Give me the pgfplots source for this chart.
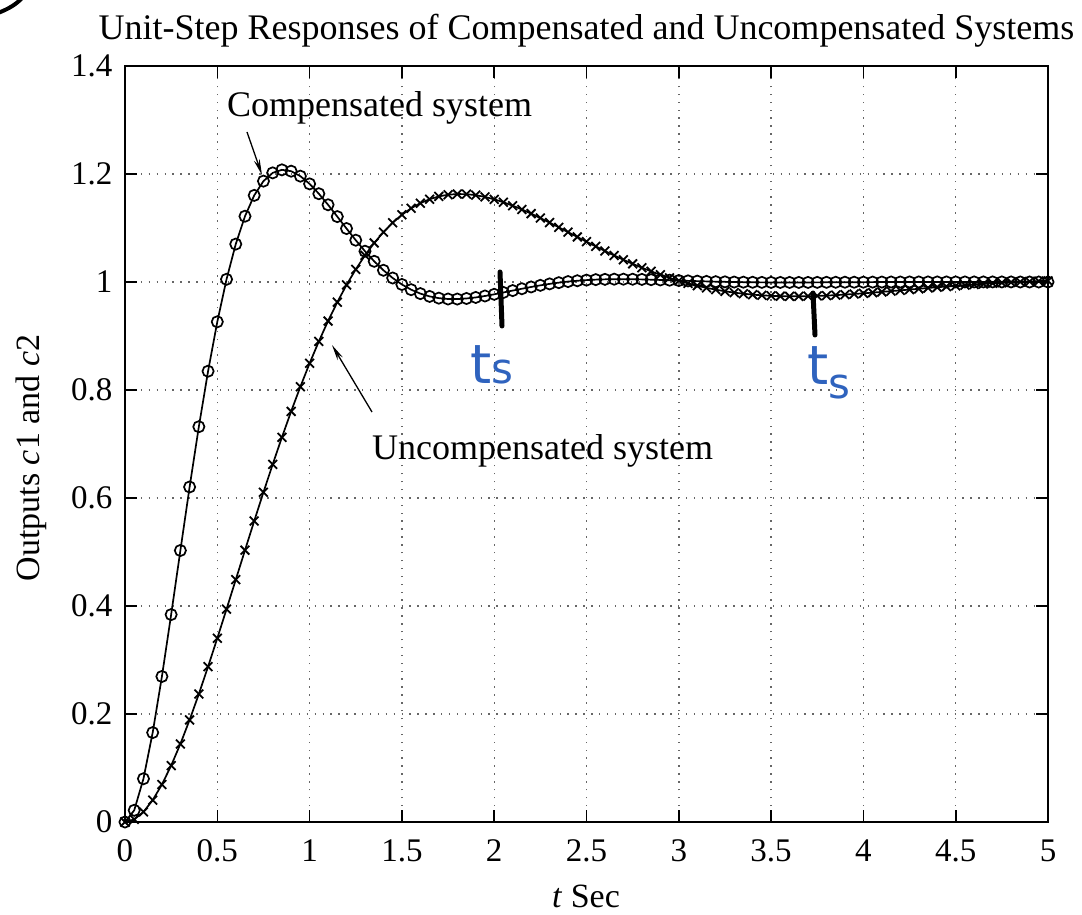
\documentclass[border=0pt]{standalone}
\usepackage{pgfplots}
\pgfplotsset{compat=1.18}
\usepackage{pgfplotstable}
\usepackage{fontspec}
\setmainfont{Liberation Serif}
\newfontfamily\handfont{DejaVu Sans}
\usetikzlibrary{arrows.meta}
\definecolor{pen}{RGB}{47,99,190}

\pgfplotstableread{
t c1 c2
0.00 0.0000 0.0000
0.05 0.0217 0.0049
0.10 0.0801 0.0187
0.15 0.1656 0.0405
0.20 0.2695 0.0694
0.25 0.3841 0.1044
0.30 0.5028 0.1446
0.35 0.6204 0.1891
0.40 0.7320 0.2370
0.45 0.8348 0.2877
0.50 0.9263 0.3403
0.55 1.0050 0.3942
0.60 1.0702 0.4487
0.65 1.1218 0.5033
0.70 1.1604 0.5574
0.75 1.1868 0.6106
0.80 1.2021 0.6623
0.85 1.2077 0.7123
0.90 1.2052 0.7604
0.95 1.1960 0.8061
1.00 1.1817 0.8494
1.05 1.1635 0.8900
1.10 1.1430 0.9277
1.15 1.1211 0.9626
1.20 1.0990 0.9945
1.25 1.0774 1.0234
1.30 1.0570 1.0493
1.35 1.0383 1.0723
1.40 1.0217 1.0924
1.45 1.0074 1.1097
1.50 0.9954 1.1244
1.55 0.9858 1.1365
1.60 0.9785 1.1460
1.65 0.9733 1.1533
1.70 0.9701 1.1585
1.75 0.9685 1.1616
1.80 0.9684 1.1629
1.85 0.9695 1.1626
1.90 0.9714 1.1608
1.95 0.9741 1.1575
2.00 0.9772 1.1531
2.05 0.9806 1.1477
2.10 0.9841 1.1413
2.15 0.9875 1.1343
2.20 0.9908 1.1266
2.25 0.9938 1.1184
2.30 0.9965 1.1100
2.35 0.9988 1.1012
2.40 1.0008 1.0923
2.45 1.0023 1.0834
2.50 1.0035 1.0746
2.55 1.0044 1.0659
2.60 1.0049 1.0574
2.65 1.0052 1.0491
2.70 1.0052 1.0412
2.75 1.0051 1.0336
2.80 1.0048 1.0265
2.85 1.0043 1.0197
2.90 1.0038 1.0134
2.95 1.0033 1.0076
3.00 1.0027 1.0023
3.05 1.0021 0.9974
3.10 1.0016 0.9931
3.15 1.0011 0.9892
3.20 1.0006 0.9858
3.25 1.0003 0.9828
3.30 0.9999 0.9803
3.35 0.9997 0.9783
3.40 0.9995 0.9766
3.45 0.9993 0.9753
3.50 0.9992 0.9744
3.55 0.9992 0.9738
3.60 0.9992 0.9735
3.65 0.9992 0.9735
3.70 0.9992 0.9737
3.75 0.9993 0.9742
3.80 0.9994 0.9748
3.85 0.9995 0.9757
3.90 0.9996 0.9767
3.95 0.9996 0.9778
4.00 0.9997 0.9790
4.05 0.9998 0.9803
4.10 0.9999 0.9817
4.15 1.0000 0.9831
4.20 1.0000 0.9845
4.25 1.0001 0.9860
4.30 1.0001 0.9874
4.35 1.0001 0.9889
4.40 1.0001 0.9903
4.45 1.0001 0.9916
4.50 1.0001 0.9929
4.55 1.0001 0.9942
4.60 1.0001 0.9954
4.65 1.0001 0.9965
4.70 1.0001 0.9975
4.75 1.0001 0.9985
4.80 1.0001 0.9994
4.85 1.0000 1.0002
4.90 1.0000 1.0009
4.95 1.0000 1.0016
5.00 1.0000 1.0022
}\datatable

\begin{document}
\begin{tikzpicture}
\useasboundingbox (-125pt,-92pt) rectangle (957pt,822pt);
\begin{axis}[
  at={(0pt,0pt)}, anchor=south west,
  scale only axis, width=923pt, height=756pt,
  xmin=0, xmax=5, ymin=0, ymax=1.4,
  xtick={0,0.5,1,1.5,2,2.5,3,3.5,4,4.5,5},
  ytick={0,0.2,0.4,0.6,0.8,1,1.2,1.4},
  /pgf/number format/assume math mode=true,
  ticklabel style={font=\fontsize{33}{36}\selectfont},
  xticklabel style={yshift=-14pt},
  yticklabel style={xshift=-9pt},
  tick pos=both, tick align=inside,
  major tick length=12pt,
  tick style={line width=1.6pt, black},
  axis line style={line width=1.8pt},
  grid=major,
  major grid style={dash pattern=on 1.4pt off 6.5pt, line width=1.4pt, black!60},
  clip=false,
]
\addplot[black, line width=1.7pt, mark=o, mark size=5.6pt, mark options={line width=1.7pt, solid}] table[x=t, y=c1] {\datatable};
\addplot[black, line width=1.7pt, mark=x, mark size=6.2pt, mark options={line width=1.8pt, solid}] table[x=t, y=c2] {\datatable};
\end{axis}
% title and labels
\node[anchor=base, font=\fontsize{36}{40}\selectfont] at (461.5pt,782pt) {Unit-Step Responses of Compensated and Uncompensated Systems};
\node[anchor=base, font=\fontsize{34}{38}\selectfont] at (461pt,-85pt) {\textit{t} Sec};
\node[anchor=base, rotate=90, font=\fontsize{34}{38}\selectfont] at (-85pt,364pt) {Outputs \textit{c}1 and \textit{c}2};
% annotations
\node[anchor=base west, font=\fontsize{36}{40}\selectfont, inner sep=0pt] at (102pt,705pt) {Compensated system};
\draw[line width=1.3pt, -{Stealth[length=16pt,width=6pt]}] (122pt,690pt) -- (137pt,647pt);
\node[anchor=base west, font=\fontsize{36}{40}\selectfont, inner sep=0pt] at (247pt,362pt) {Uncompensated system};
\draw[line width=1.3pt, -{Stealth[length=16pt,width=6pt]}] (247pt,410pt) -- (207pt,477pt);
% hand-drawn marks
\draw[line width=5pt, line cap=round] (375pt,550pt) -- (377pt,496pt);
\draw[line width=5pt, line cap=round] (688pt,529pt) -- (690pt,487pt);
\node[anchor=base west, inner sep=0pt, text=pen, font=\handfont\fontsize{54}{54}\selectfont] at (345pt,438pt) {t\fontsize{42}{42}\selectfont s};
\node[anchor=base west, inner sep=0pt, text=pen, font=\handfont\fontsize{54}{54}\selectfont] at (682pt,437pt) {t\raisebox{-14pt}{\fontsize{42}{42}\selectfont s}};
\draw[line width=4pt] (-127pt,809pt) .. controls (-117pt,813pt) and (-109pt,817pt) .. (-101pt,826pt);
\end{tikzpicture}
\end{document}
